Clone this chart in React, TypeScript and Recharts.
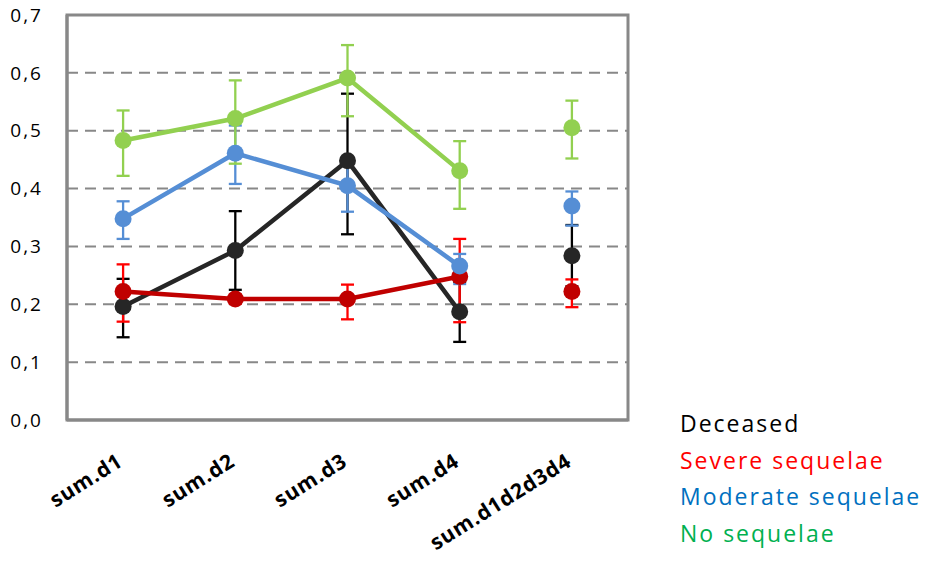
import React from 'react';
import { LineChart, Line, XAxis, YAxis, CartesianGrid, ErrorBar, ReferenceArea } from 'recharts';

const categories = ['sum.d1', 'sum.d2', 'sum.d3', 'sum.d4', 'sum.d1d2d3d4'];
const yTicks = [0, 0.1, 0.2, 0.3, 0.4, 0.5, 0.6, 0.7];

const deceased = [0.196, 0.293, 0.448, 0.187, 0.284];
const deceasedErr = [[0.053, 0.048], [0.068, 0.068], [0.127, 0.116], [0.052, 0.052], [0.053, 0.053]];
const severe = [0.222, 0.209, 0.209, 0.248, 0.222];
const severeErr = [[0.052, 0.047], [0.008, 0.008], [0.035, 0.025], [0.079, 0.065], [0.027, 0.021]];
const moderate = [0.348, 0.461, 0.405, 0.266, 0.37];
const moderateErr = [[0.035, 0.03], [0.053, 0.048], [0.045, 0.045], [0.031, 0.021], [0.034, 0.025]];
const noSequelae = [0.483, 0.521, 0.591, 0.431, 0.505];
const noSequelaeErr = [[0.061, 0.052], [0.078, 0.066], [0.066, 0.057], [0.066, 0.051], [0.053, 0.047]];

const series = [
  { key: 'deceased', name: 'Deceased', values: deceased, errs: deceasedErr, line: '#262626', err: '#000000', legend: '#000000' },
  { key: 'severe', name: 'Severe sequelae', values: severe, errs: severeErr, line: '#C00000', err: '#FF0000', legend: '#FF0000' },
  { key: 'moderate', name: 'Moderate sequelae', values: moderate, errs: moderateErr, line: '#558ED5', err: '#558ED5', legend: '#0070C0' },
  { key: 'noseq', name: 'No sequelae', values: noSequelae, errs: noSequelaeErr, line: '#92D050', err: '#92D050', legend: '#00B050' },
];

const lastIdx = categories.length - 1;
const rows = categories.map((cat, i) => {
  const row: any = { cat };
  series.forEach((s) => {
    if (i < lastIdx) {
      row[s.key] = s.values[i];
      row[s.key + 'Err'] = s.errs[i];
      row[s.key + 'Tot'] = null;
    } else {
      row[s.key] = null;
      row[s.key + 'Tot'] = s.values[i];
      row[s.key + 'TotErr'] = s.errs[i];
    }
  });
  return row;
});

const FONT = "'Open Sans', 'Noto Sans', sans-serif";

const XTick = (props: any) => {
  const { x, y, payload } = props;
  return (
    <g transform={`translate(${x + 1},${y + 45}) rotate(-32)`}>
      <text
        x={0}
        y={0}
        textAnchor="end"
        fontFamily={FONT}
        fontWeight="bold"
        fontSize={21}
        letterSpacing={0.8}
        fill="#000"
      >
        {payload.value}
      </text>
    </g>
  );
};

export default function App() {
  return (
    <div style={{ position: 'relative', width: 927, height: 561, fontFamily: FONT }}>
      <style>{'body{margin:0}'}</style>
      <LineChart width={927} height={561} data={rows} margin={{ top: 15, right: 299, bottom: 0, left: 0 }}>
        <CartesianGrid vertical={false} stroke="#888888" strokeWidth={2} strokeDasharray="11 7" />
        <ReferenceArea y1={0} y2={0.7} fill="none" stroke="#888888" strokeWidth={3} ifOverflow="visible" />
        <XAxis
          dataKey="cat"
          scale="band"
          interval={0}
          height={141}
          tickLine={false}
          tickSize={0}
          tickMargin={0}
          axisLine={{ stroke: '#888888', strokeWidth: 3 }}
          tick={<XTick />}
        />
        <YAxis
          domain={[0, 0.7]}
          ticks={yTicks}
          width={67}
          tickLine={false}
          tickSize={0}
          tickMargin={24}
          axisLine={{ stroke: '#888888', strokeWidth: 3 }}
          tickFormatter={(v: number) => v.toFixed(1).replace('.', ',')}
          tick={{ fill: '#000', fontSize: 19, fontFamily: FONT, letterSpacing: 2 }}
        />
        {series.map((s) => (
          <Line
            key={s.key}
            dataKey={s.key}
            stroke={s.line}
            strokeWidth={4.5}
            dot={{ r: 8.5, fill: s.line, stroke: s.line, strokeWidth: 0 }}
            activeDot={false}
            isAnimationActive={false}
          >
            <ErrorBar dataKey={s.key + 'Err'} direction="y" width={6.5} strokeWidth={2.3} stroke={s.err} />
          </Line>
        ))}
        {series.map((s) => (
          <Line
            key={s.key + 'Tot'}
            dataKey={s.key + 'Tot'}
            stroke="none"
            strokeWidth={0}
            dot={{ r: 8.5, fill: s.line, stroke: s.line, strokeWidth: 0 }}
            activeDot={false}
            isAnimationActive={false}
          >
            <ErrorBar dataKey={s.key + 'TotErr'} direction="y" width={6.5} strokeWidth={2.3} stroke={s.err} />
          </Line>
        ))}
      </LineChart>
      <div style={{ position: 'absolute', left: 680, top: 405, fontSize: 23, lineHeight: '36.7px', letterSpacing: 2, whiteSpace: 'nowrap' }}>
        {series.map((s) => (
          <div key={s.key} style={{ color: s.legend }}>{s.name}</div>
        ))}
      </div>
    </div>
  );
}
